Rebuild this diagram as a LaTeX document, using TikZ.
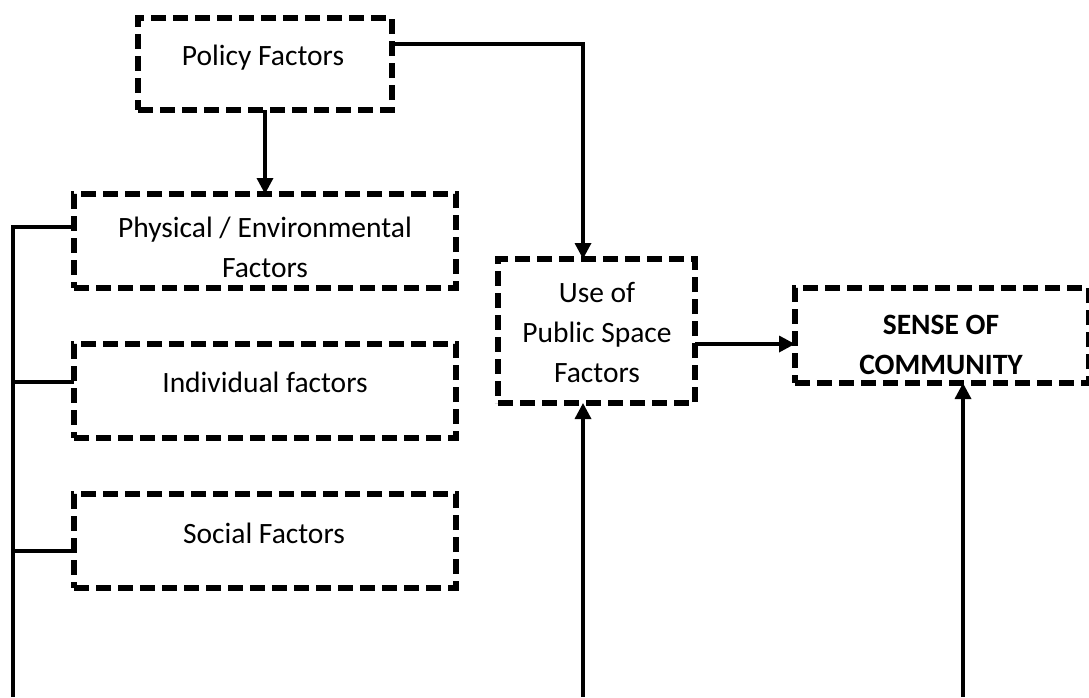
\documentclass[tikz,border=0pt]{standalone}
\usepackage{fontspec}
\setmainfont{Carlito}
\usetikzlibrary{arrows.meta}
\begin{document}
\begin{tikzpicture}[x=1pt,y=-1pt,
  box/.style={draw, line width=5.5pt, dash pattern=on 15pt off 7pt,
              outer sep=0pt, inner sep=0pt},
  lbl/.style={anchor=base, inner sep=0pt, font=\fontsize{29.5}{36}\selectfont},
  conn/.style={line width=3.4pt},
  arr/.style={conn, -{Triangle[length=16pt,width=16pt]}}]
\useasboundingbox (0,0) rectangle (1089,697);

% dashed factor boxes
\node[box, minimum width=254pt, minimum height=92pt] (policy)     at (265,64)    {};
\node[box, minimum width=382pt, minimum height=94pt] (physical)   at (265,241)   {};
\node[box, minimum width=382pt, minimum height=94pt] (individual) at (265,391)   {};
\node[box, minimum width=382pt, minimum height=94pt] (social)     at (265,541)   {};
\node[box, minimum width=197pt, minimum height=144pt] (use)       at (596.5,331) {};
\node[box, minimum width=294pt, minimum height=95pt] (sense)      at (942,335.5) {};

% box texts
\node[lbl] (policyT)  at (263,65)  {Policy Factors};
\node[lbl] (physT1)   at (265,237) {Physical / Environmental};
\node[lbl] (physT2)   at (265,277) {Factors};
\node[lbl] (indivT)   at (265,392) {Individual factors};
\node[lbl] (socialT)  at (264,543) {Social Factors};
\node[lbl] (useT1)    at (597,302) {Use of};
\node[lbl] (useT2)    at (597,342) {Public Space};
\node[lbl] (useT3)    at (597,382) {Factors};
\node[lbl, font=\fontsize{29.5}{36}\selectfont\bfseries] (senseT1) at (941,334) {SENSE OF};
\node[lbl, font=\fontsize{29.5}{36}\selectfont\bfseries] (senseT2) at (941,374) {COMMUNITY};

% connector points
\coordinate (pturn) at (583,44);
\coordinate (ltop)  at (13,227);
\coordinate (lbot)  at (13,697);
\coordinate (bi)    at (13,382);
\coordinate (bs)    at (13,551);
\coordinate (ub)    at (583,697);
\coordinate (sb)    at (963,697);

% connectors
\draw[arr] (policy.south) -- (physical.north);
\draw[arr] (policy.east |- pturn) -- (pturn) -- (pturn |- use.north);
\draw[conn] (lbot) -- (ltop) -- (ltop -| physical.west);
\draw[conn] (bi) -- (bi -| individual.west);
\draw[conn] (bs) -- (bs -| social.west);
\draw[arr] ([yshift=-13pt]use.east) -- ([yshift=-13pt]use.east -| sense.west);
\draw[arr] (ub) -- (ub |- use.south);
\draw[arr] (sb) -- (sb |- sense.south);
\end{tikzpicture}
\end{document}
